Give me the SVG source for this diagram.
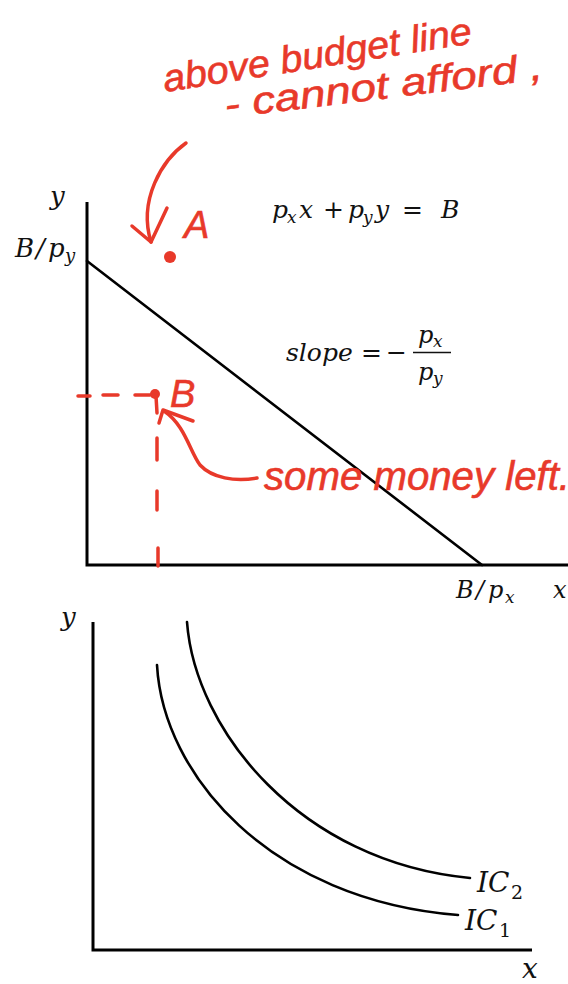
<svg xmlns="http://www.w3.org/2000/svg" width="568" height="984" viewBox="0 0 568 984">
<style>
.ax{stroke:#000;stroke-width:3;fill:none}
.cv{stroke:#000;stroke-width:2.6;fill:none;stroke-linecap:round}
.m{font-family:"DejaVu Serif","Liberation Serif",serif;font-style:italic;fill:#111}
.u{font-style:normal}
.red{stroke:#e8392a;stroke-width:3.5;fill:none;stroke-linecap:round;stroke-linejoin:round}
.hw{font-family:"Liberation Sans","DejaVu Sans",sans-serif;font-style:italic;fill:#e8392a;stroke:#e8392a;stroke-width:0.6}
</style>
<rect width="568" height="984" fill="#fff"/>
<g id="top-graph">
  <path class="ax" d="M87,202 V565 H568"/>
  <text class="m" font-size="26" x="50" y="205">y</text>
  <text class="m" font-size="26" y="257"><tspan x="15">B</tspan><tspan x="36">/</tspan><tspan x="48">p</tspan><tspan x="65" y="262" font-size="18">y</tspan></text>
  <text class="m" font-size="24" y="598"><tspan x="456">B</tspan><tspan x="476">/</tspan><tspan x="488">p</tspan><tspan x="505" y="603" font-size="17">x</tspan></text>
  <text class="m" font-size="24" x="553" y="598">x</text>
</g>
<g id="budget-line">
  <line class="cv" x1="87" y1="261" x2="482" y2="565"/>
</g>
<g id="equation">
  <text class="m" font-size="25" y="218"><tspan x="272">p</tspan><tspan x="287" y="223" font-size="17">x</tspan><tspan x="299" y="218">x</tspan><tspan class="u" x="323">+</tspan><tspan x="348">p</tspan><tspan x="363" y="223" font-size="17">y</tspan><tspan x="375" y="218">y</tspan><tspan class="u" x="402">=</tspan><tspan x="441">B</tspan></text>
</g>
<g id="slope">
  <text class="m" font-size="25" x="286" y="361">slope</text>
  <text class="m u" font-size="25" x="361" y="361">=</text>
  <text class="m u" font-size="25" x="386" y="361">−</text>
  <line x1="413" y1="352.5" x2="451" y2="352.5" stroke="#111" stroke-width="1.5"/>
  <text class="m" font-size="24" y="343"><tspan x="418">p</tspan><tspan x="433" y="347" font-size="17">x</tspan></text>
  <text class="m" font-size="24" y="380"><tspan x="418">p</tspan><tspan x="433" y="384" font-size="17">y</tspan></text>
</g>
<g id="point-A">
  <text class="hw" font-size="38" transform="translate(165,92) rotate(-9)" textLength="312" lengthAdjust="spacingAndGlyphs" x="0" y="0">above budget line</text>
  <text class="hw" font-size="38" transform="translate(226,118) rotate(-7)" textLength="320" lengthAdjust="spacingAndGlyphs" x="0" y="0">- cannot afford ,</text>
  <path class="red" d="M186,143 C162,160 138,200 151,242"/>
  <path class="red" d="M132,226 L151,242 L167,208"/>
  <circle cx="170" cy="257" r="6" fill="#e8392a"/>
  <text class="hw" font-size="38" x="184" y="238">A</text>
</g>
<g id="point-B">
  <path class="red" d="M78,396 H90 M103,395 H118 M135,395 H150"/>
  <path class="red" d="M156,396 L157,413 M157,438 V460 M157,491 V510 M158,548 V566"/>
  <circle cx="155" cy="394" r="5" fill="#e8392a"/>
  <text class="hw" font-size="38" x="170" y="407">B</text>
  <path class="red" d="M257,478 C235,482 212,478 200,465 C190,452 185,425 164,411"/>
  <path class="red" d="M159,423 L163,410 L193,421"/>
  <text class="hw" font-size="40" x="264" y="490" textLength="306" lengthAdjust="spacingAndGlyphs">some money left.</text>
</g>
<g id="bottom-graph">
  <path class="ax" d="M93,622 V950 H532"/>
  <text class="m" font-size="26" x="61" y="626">y</text>
  <text class="m" font-size="28" x="522" y="978">x</text>
</g>
<g id="ic2">
  <path class="cv" d="M187,622 C195,730 300,862 470,878"/>
  <text class="m" font-size="28" y="892"><tspan x="477">I</tspan><tspan x="488">C</tspan><tspan x="511" y="899" font-size="19" class="u">2</tspan></text>
</g>
<g id="ic1">
  <path class="cv" d="M157,665 C163,775 270,900 458,915"/>
  <text class="m" font-size="28" y="930"><tspan x="465">I</tspan><tspan x="476">C</tspan><tspan x="499" y="937" font-size="19" class="u">1</tspan></text>
</g>
</svg>
